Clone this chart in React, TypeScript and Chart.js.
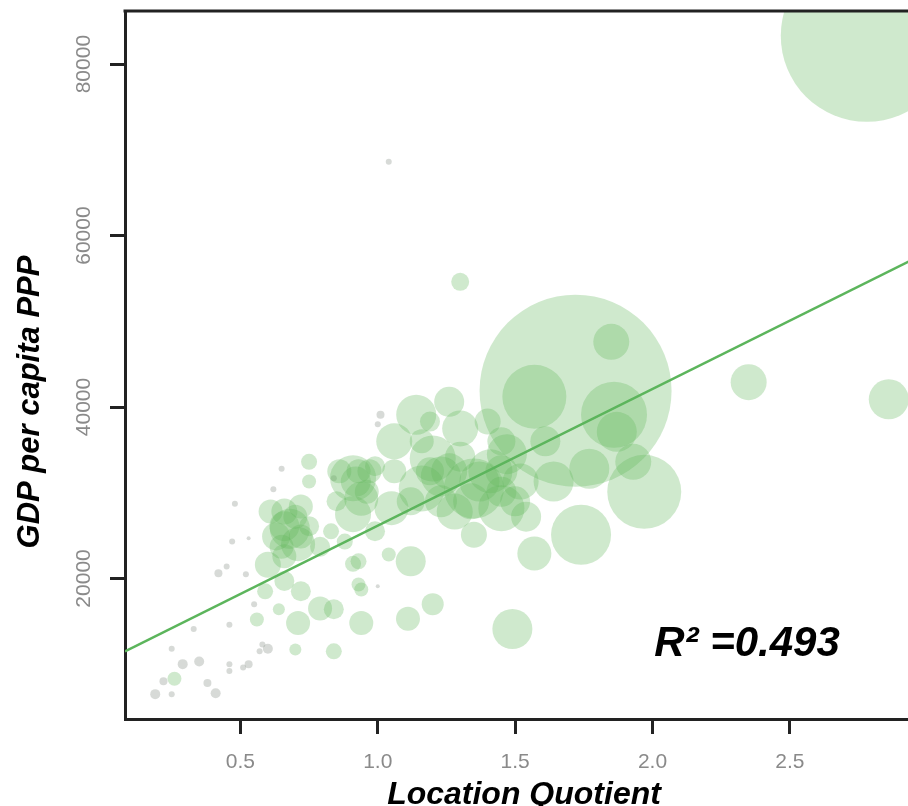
import React, { useEffect, useRef } from 'react';
import { Chart, registerables } from 'chart.js';

Chart.register(...registerables);

const xTicks = [0.5, 1.0, 1.5, 2.0, 2.5];
const yTicks = [20000, 40000, 60000, 80000];

const xTitle = 'Location Quotient';
const yTitle = 'GDP per capita PPP';
const r2Label = 'R² =0.493';

// Regions (green bubbles): location quotient, GDP per capita, bubble size
const bubbleX = [
  2.78, 1.72, 1.85, 1.57, 1.86, 1.97, 1.74, 1.57, 1.49, 2.35, 2.86, 1.30,
  1.14, 1.30, 1.40, 1.20, 1.47, 1.35, 1.16, 1.45, 0.91, 0.91, 1.05, 1.12,
  1.35, 1.64, 1.77, 1.93, 1.87, 0.75, 0.75, 0.93, 0.93, 1.04, 0.68, 0.66,
  0.71, 0.60, 0.94, 0.56, 0.64, 0.71, 0.72, 0.79, 0.84, 0.91, 0.94, 1.11,
  0.94, 0.70, 0.84, 0.26, 1.20, 0.61, 0.72, 0.63, 0.75, 0.66, 0.79, 0.59,
  0.66, 0.86, 0.97, 0.85, 0.99, 0.83, 0.88, 1.06, 1.26, 1.23, 1.52, 1.41,
  1.28, 1.54, 1.06, 1.12, 1.61, 1.45, 1.16, 0.99, 1.19,
  0.66, 0.70, 0.65, 0.72, 0.92, 0.96, 0.93, 1.26, 1.37, 1.34, 1.45, 1.23,
  1.19, 1.45, 1.30, 1.50,
];
const bubbleY = [
  83300, 41900, 47600, 41200, 39100, 30100, 25100, 22900, 14100, 42900, 40900, 54600,
  39100, 37500, 38300, 34000, 34500, 30500, 30500, 28200, 31700, 27500, 28200, 22000,
  25100, 31300, 32800, 33600, 37100, 33600, 31300, 22000, 19300, 22800, 25800, 27800,
  24000, 21600, 29300, 15200, 16400, 14800, 18500, 16500, 16400, 21700, 18700, 15300,
  14800, 11700, 11500, 8300, 17000, 27800, 28400, 24900, 26100, 22600, 23700, 18500,
  19700, 32500, 32500, 29000, 25500, 25500, 24300, 36000, 40600, 31900, 31300, 32500,
  27800, 27200, 32500, 29000, 36000, 36000, 36000, 33100, 38300,
  26100, 27200, 23700, 24900, 31300, 30100, 32500, 32500, 31300, 29000, 32500, 29000,
  32500, 30100, 34200, 29000,
];
const bubbleR = [
  86, 96, 18, 32, 33, 37, 30, 17, 20, 18, 20, 9,
  20, 18, 13, 23, 20, 30, 23, 23, 23, 18, 17, 15,
  13, 20, 20, 18, 20, 8, 7, 8, 7, 7, 20, 13,
  17, 13, 17, 7, 6, 12, 10, 12, 10, 8, 7, 12,
  12, 6, 8, 7, 11, 12, 12, 14, 10, 12, 10, 8,
  10, 12, 12, 10, 10, 8, 8, 18, 15, 20, 18, 22,
  18, 15, 12, 14, 15, 14, 12, 10, 10,
  15, 12, 12, 12, 15, 12, 12, 18, 20, 18, 16, 16,
  14, 15, 15, 15,
];

// Small grey markers
const smallX = [
  1.04, 0.65, 0.62, 0.48, 0.47, 0.53, 0.42, 0.45, 0.52, 0.55, 0.60, 0.53,
  0.46, 0.46, 0.35, 0.29, 0.22, 0.19, 0.25, 0.38, 0.41, 0.25, 0.33, 0.46,
  0.84, 1.01, 1.00, 1.00, 0.57, 0.58, 0.51,
];
const smallY = [
  68600, 32800, 30400, 28700, 24300, 24700, 20600, 21400, 20500, 17000, 11800, 10000,
  10000, 9200, 10300, 10000, 8000, 6500, 6500, 7800, 6600, 11800, 14100, 14600,
  31700, 39100, 38000, 19100, 11500, 12300, 9600,
];
const smallR = [
  3, 3, 3, 3, 3, 2, 4, 3, 3, 3, 5, 4,
  3, 3, 5, 5, 4, 5, 3, 4, 5, 3, 3, 3,
  3, 4, 3, 2, 3, 3, 3,
];

// Fitted regression line end points
const fitX = [0.08, 2.94];
const fitY = [11500, 57100];

const FONT = '"Liberation Sans", Arial, Helvetica, sans-serif';

const decorPlugin = {
  id: 'decor',
  afterDraw(chart: any) {
    const { ctx, chartArea } = chart;
    ctx.save();
    // top frame line
    ctx.strokeStyle = '#222222';
    ctx.lineWidth = 3;
    ctx.beginPath();
    ctx.moveTo(chartArea.left - 1.5, chartArea.top);
    ctx.lineTo(chartArea.right, chartArea.top);
    ctx.stroke();

    ctx.fillStyle = '#000000';
    // x title
    ctx.font = `italic bold 32px ${FONT}`;
    ctx.textAlign = 'center';
    ctx.textBaseline = 'alphabetic';
    ctx.fillText(xTitle, 524, 804);

    // y title
    ctx.save();
    ctx.translate(39, 402);
    ctx.rotate(-Math.PI / 2);
    ctx.font = `italic bold 31px ${FONT}`;
    ctx.textAlign = 'center';
    ctx.textBaseline = 'alphabetic';
    ctx.fillText(yTitle, 0, 0);
    ctx.restore();

    // R squared
    ctx.font = `italic bold 42px ${FONT}`;
    ctx.textAlign = 'center';
    ctx.textBaseline = 'alphabetic';
    ctx.fillText(r2Label, 747, 656);
    ctx.restore();
  },
};

export default function App() {
  const canvasRef = useRef<HTMLCanvasElement | null>(null);

  useEffect(() => {
    if (!canvasRef.current) return;
    const bubbles = bubbleX.map((x, i) => ({ x, y: bubbleY[i], r: bubbleR[i] }));
    const smalls = smallX.map((x, i) => ({ x, y: smallY[i], r: smallR[i] }));
    const fit = fitX.map((x, i) => ({ x, y: fitY[i] }));

    const chart = new Chart(canvasRef.current, {
      type: 'bubble',
      data: {
        datasets: [
          {
            type: 'line',
            label: 'fit',
            data: fit as any,
            borderColor: '#5cb55c',
            borderWidth: 2.5,
            pointRadius: 0,
            fill: false,
            clip: 0,
            order: 0,
          } as any,
          {
            label: 'regions',
            data: bubbles,
            backgroundColor: 'rgba(95, 182, 90, 0.3)',
            borderWidth: 0,
            borderColor: 'rgba(0,0,0,0)',
            clip: 0,
            order: 1,
          } as any,
          {
            label: 'small',
            data: smalls,
            backgroundColor: 'rgba(140, 150, 140, 0.35)',
            borderWidth: 0,
            borderColor: 'rgba(0,0,0,0)',
            clip: 0,
            order: 2,
          } as any,
        ],
      },
      options: {
        responsive: false,
        animation: false,
        events: [],
        layout: { autoPadding: false, padding: { top: 11, right: 0, left: 0, bottom: 0 } },
        plugins: {
          legend: { display: false },
          tooltip: { enabled: false },
          title: { display: false },
        },
        scales: {
          x: {
            type: 'linear',
            min: 0.08,
            max: 2.93,
            afterFit: (scale: any) => {
              scale.height = 87;
            },
            afterBuildTicks: (scale: any) => {
              scale.ticks = xTicks.map((v) => ({ value: v }));
            },
            border: { display: true, color: '#222222', width: 3 },
            grid: {
              display: true,
              drawOnChartArea: false,
              drawTicks: true,
              tickLength: 15,
              tickWidth: 3,
              tickColor: '#222222',
            },
            ticks: {
              padding: 16,
              color: '#8a8a8a',
              font: { family: FONT, size: 21 },
              maxRotation: 0,
              minRotation: 0,
              callback: (v: any) => Number(v).toFixed(1),
            },
          },
          y: {
            type: 'linear',
            min: 3600,
            max: 86200,
            afterFit: (scale: any) => {
              scale.width = 125;
            },
            afterBuildTicks: (scale: any) => {
              scale.ticks = yTicks.map((v) => ({ value: v }));
            },
            border: { display: true, color: '#222222', width: 3 },
            grid: {
              display: true,
              drawOnChartArea: false,
              drawTicks: true,
              tickLength: 15,
              tickWidth: 3,
              tickColor: '#222222',
            },
            ticks: {
              padding: -3,
              color: '#8a8a8a',
              font: { family: FONT, size: 21 },
              minRotation: 90,
              maxRotation: 90,
              crossAlign: 'center',
              callback: (v: any) => String(v),
            },
          },
        },
      },
      plugins: [decorPlugin],
    } as any);

    return () => chart.destroy();
  }, []);

  return (
    <div style={{ position: 'absolute', left: 0, top: 0, width: 908, height: 806, background: '#ffffff' }}>
      <canvas ref={canvasRef} width={908} height={806} style={{ display: 'block' }} />
    </div>
  );
}
